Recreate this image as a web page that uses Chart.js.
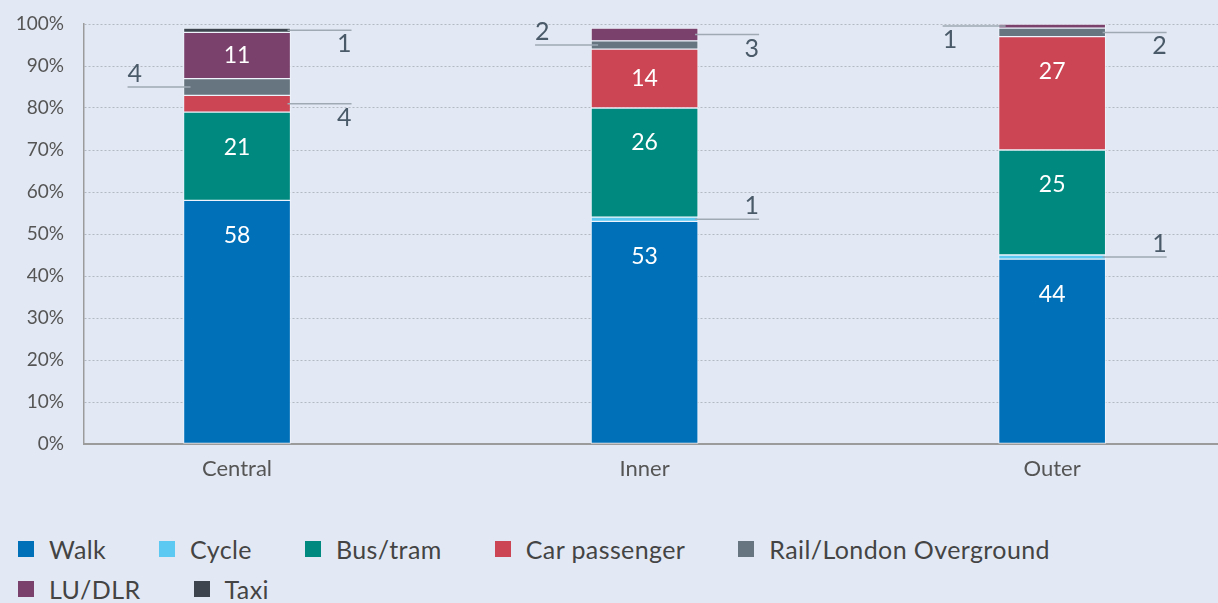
<!DOCTYPE html>
<html>
<head>
<meta charset="utf-8">
<script src="https://cdn.jsdelivr.net/npm/chart.js@4/dist/chart.umd.min.js"></script>
<style>
  html, body { margin: 0; padding: 0; background: #e3e9f4; }
  body { width: 1218px; height: 603px; overflow: hidden; position: relative; font-family: Lato, "Open Sans", sans-serif; }
  #wrap { position: absolute; left: 0; top: 0; width: 1218px; height: 490px; }
  #legend { position: absolute; left: 18px; top: 529px; width: 1190px; display: flex; flex-wrap: wrap; }
  .item { display: flex; align-items: center; height: 40px; margin-right: 53px; font-size: 25px; color: #444; letter-spacing: 0.4px; }
  .box { width: 16px; height: 16px; margin-right: 15px; }
</style>
</head>
<body>
<div id="wrap"><canvas id="chart"></canvas></div>
<div id="legend"></div>
<script>
// categories and series (percent of trips)
const categories = ['Central', 'Inner', 'Outer'];
const walk = [58, 53, 44];
const cycle = [null, 1, 1];
const busTram = [21, 26, 25];
const carPassenger = [4, 14, 27];
const railOverground = [4, 2, 2];
const luDlr = [11, 3, 1];
const taxi = [1, null, null];
const yTickValues = [0, 10, 20, 30, 40, 50, 60, 70, 80, 90, 100];

// where each value label sits: inside the bar, or outside with a leader line
const walkLabels = ['in', 'in', 'in'];
const cycleLabels = [null, 'right-above', 'right-above'];
const busLabels = ['in', 'in', 'in'];
const carLabels = ['right-below', 'in', 'in'];
const railLabels = ['left-above', 'left-above', 'right-below'];
const luLabels = ['in', 'right-below', 'left-below'];
const taxiLabels = ['right-below', null, null];

const series = [
    { label: 'Walk', values: walk, color: '#0071b9', labels: walkLabels },
    { label: 'Cycle', values: cycle, color: '#5bc9f2', labels: cycleLabels },
    { label: 'Bus/tram', values: busTram, color: '#00897f', labels: busLabels },
    { label: 'Car passenger', values: carPassenger, color: '#cc4554', labels: carLabels },
    { label: 'Rail/London Overground', values: railOverground, color: '#66757f', labels: railLabels },
    { label: 'LU/DLR', values: luDlr, color: '#7a416c', labels: luLabels },
    { label: 'Taxi', values: taxi, color: '#3d444d', labels: taxiLabels }
];

const datasets = series.map(s => ({
    label: s.label,
    data: s.values.map((v, i) => ({ x: i, y: v })),
    backgroundColor: s.color,
    borderColor: 'rgba(240,244,252,0.85)',
    borderWidth: 1,
    borderSkipped: false,
    barThickness: 107,
    placements: s.labels
}));

// value labels + leader lines
const valueLabels = {
    id: 'valueLabels',
    afterDatasetsDraw(chart) {
        const ctx = chart.ctx;
        chart.data.datasets.forEach((ds, i) => {
            const meta = chart.getDatasetMeta(i);
            meta.data.forEach((el, j) => {
                const v = ds.data[j].y;
                const place = ds.placements[j];
                if (v == null || !place) return;
                const { x, y, base, width } = el.getProps(['x', 'y', 'base', 'width'], true);
                const cy = (y + base) / 2;
                ctx.save();
                if (place === 'in') {
                    ctx.fillStyle = '#ffffff';
                    ctx.font = '23px Lato';
                    ctx.textAlign = 'center';
                    ctx.textBaseline = 'middle';
                    ctx.fillText(String(v), x, Math.min(y + 35, cy));
                } else {
                    const [side, vert] = place.split('-');
                    const left = x - width / 2, right = x + width / 2;
                    let x1, x2;
                    if (side === 'right') { x1 = right - 3; x2 = right + 61; }
                    else { x1 = left + 7; x2 = left - 56; }
                    ctx.strokeStyle = '#9ea9b3';
                    ctx.lineWidth = 1.5;
                    ctx.beginPath();
                    ctx.moveTo(x1, cy);
                    ctx.lineTo(x2, cy);
                    ctx.stroke();
                    ctx.fillStyle = '#4a5a68';
                    ctx.font = '25px Lato';
                    ctx.textAlign = side === 'right' ? 'right' : 'left';
                    ctx.textBaseline = 'middle';
                    ctx.fillText(String(v), x2, cy + (vert === 'above' ? -13 : 14));
                }
                ctx.restore();
            });
        });
    }
};

const chart = new Chart(document.getElementById('chart'), {
    type: 'bar',
    data: { datasets: datasets },
    plugins: [valueLabels],
    options: {
        responsive: true,
        maintainAspectRatio: false,
        animation: false,
        layout: { padding: { top: 24, left: 0, right: 0, bottom: 0 } },
        plugins: {
            legend: { display: false },
            tooltip: { enabled: false }
        },
        scales: {
            x: {
                type: 'linear',
                stacked: true,
                offset: false,
                min: -0.3755,
                max: 2.407,
                afterBuildTicks: axis => { axis.ticks = categories.map((c, i) => ({ value: i })); },
                afterFit: axis => { axis.height = 46; },
                grid: { display: false, offset: false },
                border: { display: true, color: '#9b9b9b', width: 2 },
                ticks: {
                    padding: 4,
                    color: '#555',
                    font: { family: 'Lato', size: 22 },
                    callback: v => categories[v]
                }
            },
            y: {
                stacked: true,
                min: 0,
                max: 100,
                afterBuildTicks: axis => { axis.ticks = yTickValues.map(v => ({ value: v })); },
                afterFit: axis => {
                    axis.width = 84;
                    axis.paddingTop = 0;
                    axis.paddingBottom = 0;
                },
                grid: { color: '#b3b8c2', drawTicks: false, lineWidth: 1 },
                border: { display: true, color: '#9b9b9b', width: 1.5, dash: [2, 2] },
                ticks: {
                    padding: 20,
                    color: '#555',
                    font: { family: 'Lato', size: 19 },
                    callback: v => v + '%'
                }
            }
        }
    }
});

// html legend built from the same series
const legendEl = document.getElementById('legend');
series.forEach(s => {
    const item = document.createElement('div');
    item.className = 'item';
    const box = document.createElement('span');
    box.className = 'box';
    box.style.background = s.color;
    item.appendChild(box);
    item.appendChild(document.createTextNode(s.label));
    legendEl.appendChild(item);
});
</script>
</body>
</html>
